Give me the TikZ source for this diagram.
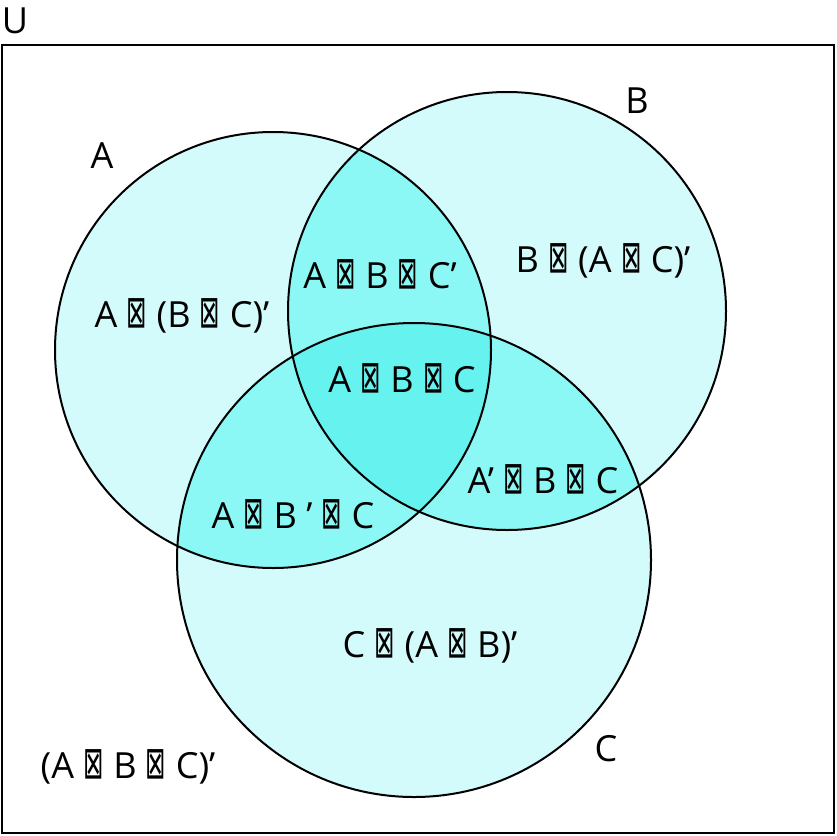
\documentclass[tikz,border=0pt]{standalone}
\usepackage{fontspec}
\setmainfont{Open Sans}
\newfontfamily\symfont{DejaVu Sans}
\usepackage{graphicx}
\newcommand{\bx}{\scalebox{0.68}[1.25]{\symfont ⊠}}

\definecolor{oneset}{RGB}{212,251,251}
\definecolor{twoset}{RGB}{140,248,245}
\definecolor{threeset}{RGB}{102,242,239}

\tikzset{
  lbl/.style={font=\fontsize{36}{42}\selectfont,inner sep=0pt},
  rim/.style={line width=2pt}
}

\begin{document}
\begin{tikzpicture}[x=1pt,y=-1pt]
  \useasboundingbox (0,0) rectangle (837,835);

  % universal set
  \draw[rim] (2,45) rectangle (834,833);
  \node[lbl] (U) at (15,21) {U};

  % centres of the three sets
  \coordinate (cA) at (273,350);
  \coordinate (cB) at (507,311);
  \coordinate (cC) at (414,560);

  % one set
  \fill[oneset] (cA) circle[radius=218pt];
  \fill[oneset] (cB) circle[radius=219pt];
  \fill[oneset] (cC) circle[radius=237pt];

  % two sets
  \begin{scope}
    \clip (cA) circle[radius=218pt];
    \fill[twoset] (cB) circle[radius=219pt];
    \fill[twoset] (cC) circle[radius=237pt];
  \end{scope}
  \begin{scope}
    \clip (cB) circle[radius=219pt];
    \fill[twoset] (cC) circle[radius=237pt];
  \end{scope}

  % all three
  \begin{scope}
    \clip (cA) circle[radius=218pt];
    \clip (cB) circle[radius=219pt];
    \fill[threeset] (cC) circle[radius=237pt];
  \end{scope}

  \draw[rim] (cA) circle[radius=218pt];
  \draw[rim] (cB) circle[radius=219pt];
  \draw[rim] (cC) circle[radius=237pt];

  % set names
  \node[lbl] (nA) at (102,156) {A};
  \node[lbl] (nB) at (637,101) {B};
  \node[lbl] (nC) at (606,749) {C};

  % regions
  \node[lbl] (onlyA) at (182,316) {A \bx{} (B \bx{} C)’};
  \node[lbl] (onlyB) at (603,261) {B \bx{} (A \bx{} C)’};
  \node[lbl] (onlyC) at (430,646) {C \bx{} (A \bx{} B)’};
  \node[lbl] (AB) at (380,274) {A \bx{} B \bx{} C’};
  \node[lbl] (AC) at (293,514) {A \bx{} B ’ \bx{} C};
  \node[lbl] (BC) at (543,479) {A’ \bx{} B \bx{} C};
  \node[lbl] (ABC) at (402,378) {A \bx{} B \bx{} C};
  \node[lbl] (none) at (128,767) {(A \bx{} B \bx{} C)’};
\end{tikzpicture}
\end{document}
